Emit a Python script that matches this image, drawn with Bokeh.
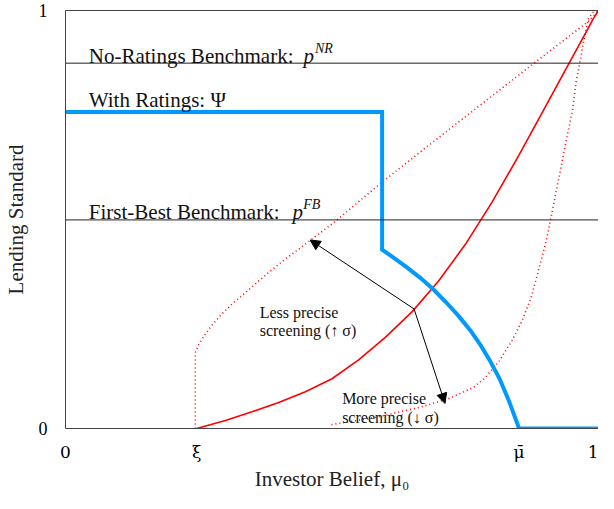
from bokeh.plotting import figure
from bokeh.models import Range1d, FixedTicker, LinearAxis, Label, Span, Arrow, NormalHead
from bokeh.embed import file_html
from bokeh.resources import INLINE

# ---- data ----
xi = 0.246
mu_bar = 0.851
p_NR = 0.874
p_FB = 0.499

# With Ratings: Psi (blue)
blue_x = [0.0, 0.594, 0.594, 0.614, 0.638, 0.665, 0.690, 0.714, 0.737, 0.760, 0.779, 0.796, 0.814, 0.832, 0.851, 1.02]
blue_y = [0.757, 0.757, 0.428, 0.410, 0.388, 0.361, 0.333, 0.302, 0.270, 0.234, 0.199, 0.163, 0.120, 0.066, 0.0, 0.0]

# baseline screening (red solid)
red_x = [0.246, 0.30, 0.35, 0.40, 0.45, 0.50, 0.55, 0.60, 0.65, 0.70, 0.75, 0.80, 0.85, 0.90, 0.95, 0.978, 0.990, 1.0]
red_y = [0.0, 0.019, 0.040, 0.062, 0.088, 0.119, 0.164, 0.218, 0.279, 0.353, 0.440, 0.541, 0.652, 0.769, 0.886, 0.951, 0.980, 1.0]

# less precise screening (red dotted, upper)
up_x = [0.2435, 0.2435, 0.2495, 0.2587, 0.274, 0.292, 0.310, 0.335, 0.359, 0.383, 0.413, 0.444, 0.462, 0.505, 0.583, 0.668, 0.872, 0.982, 1.0]
up_y = [0.0, 0.181, 0.200, 0.219, 0.246, 0.272, 0.295, 0.322, 0.349, 0.375, 0.406, 0.435, 0.453, 0.494, 0.578, 0.664, 0.867, 0.975, 1.0]

# more precise screening (red dotted, lower)
lo_x = [0.499, 0.583, 0.663, 0.718, 0.765, 0.787, 0.814, 0.838, 0.856, 0.873, 0.884, 0.896, 0.903, 0.914, 0.925, 0.938, 0.951, 0.955, 0.959, 0.965, 0.970, 0.976, 0.981, 0.990, 1.0]
lo_y = [0.009, 0.027, 0.050, 0.071, 0.098, 0.121, 0.162, 0.211, 0.256, 0.311, 0.362, 0.420, 0.455, 0.525, 0.595, 0.680, 0.760, 0.799, 0.837, 0.875, 0.913, 0.951, 0.980, 0.996, 1.0]

arrow_origin = (0.654, 0.286)
arrow_less = (0.459, 0.451)
arrow_more = (0.712, 0.060)

x_ticks = [0, xi, mu_bar, 1]
x_tick_labels = ["0", "ξ", "μ̄", "1"]
y_ticks = [0, 1]

FONT = "Liberation Serif"

p = figure(width=598, height=493, output_backend="svg", toolbar_location=None,
           x_range=Range1d(0, 1.0), y_range=Range1d(0, 1),
           min_border_left=55, min_border_right=0, min_border_top=10, min_border_bottom=52)
p.outline_line_color = None
p.xgrid.visible = False
p.ygrid.visible = False
p.background_fill_color = "white"

for ax in (p.xaxis[0], p.yaxis[0]):
    ax.major_tick_line_color = None
    ax.minor_tick_line_color = None
    ax.axis_line_color = "#444444"
    ax.axis_line_width = 1
    ax.major_label_text_font = FONT
    ax.major_label_text_font_size = "18px"
    ax.major_label_text_color = "black"
    ax.axis_label_text_font = FONT
    ax.axis_label_text_font_size = "21px"
    ax.axis_label_text_font_style = "normal"
    ax.axis_label_text_color = "#222222"

p.xaxis.ticker = FixedTicker(ticks=x_ticks)
p.xaxis.major_label_overrides = {t: l for t, l in zip(x_ticks, x_tick_labels)}
p.xaxis.major_label_text_font = "DejaVu Serif"
p.xaxis.major_label_text_font_size = "17px"
p.xaxis.major_label_standoff = 7
p.xaxis.axis_label = "Investor Belief, μ₀"
p.xaxis.axis_label_standoff = 2

p.yaxis.ticker = FixedTicker(ticks=y_ticks)
p.yaxis.major_label_standoff = 12
p.yaxis.axis_label = "Lending Standard"
p.yaxis.axis_label_standoff = 8

top = LinearAxis(ticker=FixedTicker(ticks=[]), axis_line_color="#444444",
                 major_tick_line_color=None, minor_tick_line_color=None,
                 major_label_text_font_size="0px")
p.add_layout(top, "above")

# benchmark lines
p.add_layout(Span(location=p_NR, dimension="width", line_color="#222222", line_width=1))
p.add_layout(Span(location=p_FB, dimension="width", line_color="#222222", line_width=1))

# curves
p.line(up_x, up_y, line_color="red", line_width=1.6, line_dash="1 3")
p.line(lo_x, lo_y, line_color="red", line_width=1.6, line_dash="1 3")
p.line(red_x, red_y, line_color="red", line_width=1.6)
p.line(blue_x, blue_y, line_color="#0099ff", line_width=4, line_join="miter")

# arrows
for end in (arrow_less, arrow_more):
    p.add_layout(Arrow(x_start=arrow_origin[0], y_start=arrow_origin[1], x_end=end[0], y_end=end[1],
                       line_color="black", line_width=1,
                       end=NormalHead(size=10, fill_color="black", line_color="black")))

def lab(x, y, text, size="21px", style="normal"):
    p.add_layout(Label(x=x, y=y, text=text, text_font=FONT, text_font_size=size,
                       text_font_style=style, text_color="#111111", text_baseline="alphabetic"))

lab(0.0437, 0.892, "No-Ratings Benchmark:")
lab(0.4463, 0.892, "p", style="italic")
lab(0.468, 0.910, "NR", size="14px", style="italic")
lab(0.0437, 0.785, "With Ratings: Ψ")
lab(0.0437, 0.518, "First-Best Benchmark:")
lab(0.426, 0.518, "p", style="italic")
lab(0.446, 0.536, "FB", size="14px", style="italic")

lab(0.3643, 0.2769, "Less precise", size="16px")
lab(0.3643, 0.2334, "screening (↑ σ)", size="16px")
lab(0.519, 0.0709, "More precise", size="16px")
lab(0.519, 0.0275, "screening (↓ σ)", size="16px")

open("out.html", "w").write(file_html(p, INLINE))
